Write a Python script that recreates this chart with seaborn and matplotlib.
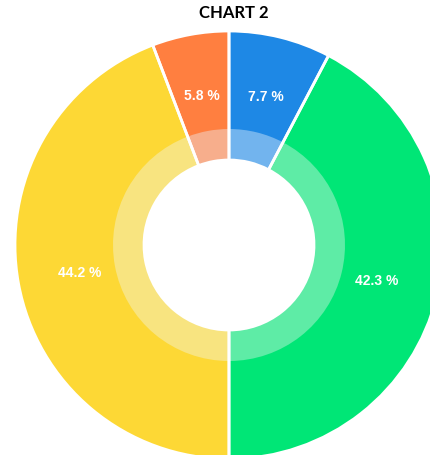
import matplotlib
matplotlib.use("Agg")
import matplotlib.pyplot as plt
import seaborn as sns

sns.set_theme(style="white")
plt.rcParams['font.family'] = ['Lato', 'DejaVu Sans']

categories = ["Blue", "Green", "Yellow", "Orange"]
values = [7.7, 42.3, 44.2, 5.8]
labels = ["7.7 %", "42.3 %", "44.2 %", "5.8 %"]
outer_colors = ["#1E88E5", "#00E676", "#FDD835", "#FF7F40"]
inner_colors = ["#72B4EE", "#5EECA6", "#F8E480", "#F7AE8C"]
title = "CHART 2"

W, H = 431, 455
fig = plt.figure(figsize=(W / 100, H / 100), dpi=100)
ax = fig.add_axes([0, 0, 1, 1])

R = 214.0
cx, cy = 229.0, 245.0
r_light = 116.0 / R
r_hole = 85.0 / R

# outer coloured ring (full width down to the hole)
ax.pie(values, radius=1.0, colors=outer_colors, startangle=90, counterclock=False,
       wedgeprops=dict(width=1.0 - r_hole, linewidth=0),
       labels=labels, labeldistance=0.71,
       textprops=dict(color="white", fontsize=10, fontweight="bold",
                      family=["Liberation Sans", "DejaVu Sans"]))
for t in ax.texts:
    t.set_horizontalalignment("center")
    t.set_verticalalignment("center")

# lighter inner ring
ax.pie(values, radius=r_light, colors=inner_colors, startangle=90, counterclock=False,
       wedgeprops=dict(width=r_light - r_hole, linewidth=0))

# white separators across both rings
ax.pie(values, radius=1.0, colors=["none"] * len(values), startangle=90, counterclock=False,
       wedgeprops=dict(width=1.0 - r_hole, edgecolor="white", linewidth=2, facecolor="none"))

ax.set_xlim(-cx / R, (W - cx) / R)
ax.set_ylim(-(H - cy) / R, cy / R)
ax.set_aspect("auto")
ax.axis("off")

fig.text(234 / W, 1 - 13 / H, title, ha="center", va="center",
         fontsize=12, fontweight="bold", color="black")

fig.savefig("out.png", dpi=100, facecolor="white")
